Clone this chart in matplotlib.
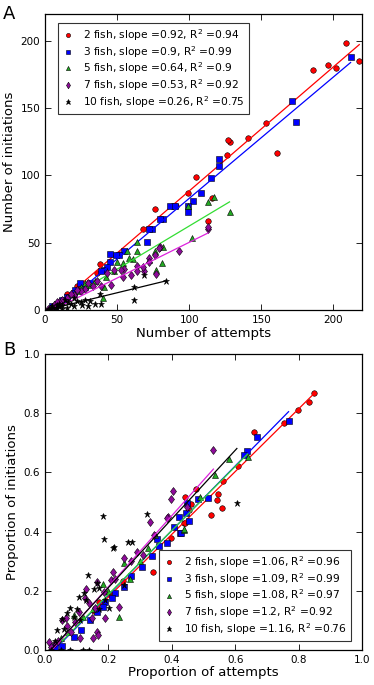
import numpy as np
import matplotlib
matplotlib.use('Agg')
import matplotlib.pyplot as plt

groups = ['2 fish', '3 fish', '5 fish', '7 fish', '10 fish']

# panel A: counts
a2_x = [218, 209, 202, 196, 186, 161, 153, 141, 128, 127, 126, 105, 99, 113, 116, 91, 88, 76, 68, 51, 38, 36, 22, 15]
a2_y = [185, 198, 180, 182, 178, 117, 139, 128, 125, 126, 115, 99, 87, 66, 83, 77, 77, 75, 60, 42, 34, 28, 18, 12]
a3_x = [212, 171, 174, 121, 121, 115, 108, 103, 99, 99, 87, 90, 82, 80, 74, 72, 71, 55, 51, 49, 45, 45, 43, 41, 39, 31, 28, 24, 21, 20, 15, 12, 8, 5]
a3_y = [188, 155, 140, 112, 107, 98, 87, 81, 73, 77, 77, 77, 68, 68, 60, 60, 51, 44, 41, 41, 42, 36, 32, 30, 29, 20, 17, 20, 15, 13, 10, 8, 5, 3]
a5_x = [128, 117, 113, 102, 99, 82, 81, 77, 76, 72, 64, 64, 61, 58, 57, 54, 50, 48, 42, 41, 40, 35, 30, 28, 25, 22, 18, 15, 12, 8, 5]
a5_y = [73, 84, 80, 54, 77, 47, 35, 30, 44, 37, 51, 44, 38, 39, 44, 35, 36, 29, 25, 17, 9, 22, 19, 20, 17, 14, 12, 10, 8, 5, 3]
a7_x = [113, 113, 93, 80, 79, 77, 76, 72, 72, 69, 68, 64, 64, 60, 55, 54, 53, 48, 46, 43, 39, 36, 33, 30, 28, 25, 22, 20, 18, 15, 12, 10, 8, 6, 4, 2]
a7_y = [60, 62, 44, 47, 46, 27, 41, 39, 36, 29, 32, 33, 29, 26, 31, 25, 30, 30, 19, 28, 18, 22, 18, 20, 16, 14, 15, 11, 12, 9, 8, 6, 6, 4, 2, 1]
a10_x = [84, 69, 62, 62, 39, 38, 35, 31, 30, 28, 26, 25, 22, 20, 20, 18, 16, 15, 14, 12, 12, 10, 10, 8, 8, 6, 5, 4, 3, 2]
a10_y = [22, 26, 17, 8, 5, 12, 5, 7, 3, 8, 4, 6, 7, 3, 9, 5, 6, 2, 8, 4, 1, 5, 3, 2, 4, 1, 3, 2, 1, 0]
a_slope = [0.92, 0.9, 0.64, 0.53, 0.26]
a_icpt = [-3.5, -7.0, -1.5, -2.6, 0.0]
a_r2 = ['0.94', '0.99', '0.9', '0.92', '0.75']

# panel B: proportions
b2_x = [0.847, 0.831, 0.797, 0.755, 0.660, 0.607, 0.560, 0.545, 0.541, 0.559, 0.524, 0.475, 0.442, 0.461,
        0.153, 0.169, 0.203, 0.245, 0.342, 0.397, 0.439, 0.455, 0.441]
b2_y = [0.867, 0.839, 0.810, 0.767, 0.735, 0.622, 0.572, 0.526, 0.507, 0.481, 0.456, 0.543, 0.518, 0.493,
        0.133, 0.161, 0.190, 0.233, 0.262, 0.377, 0.428, 0.474, 0.430]
b3_x = [0.768, 0.670, 0.638, 0.629, 0.513, 0.481, 0.449, 0.445, 0.455, 0.421, 0.407, 0.426, 0.386, 0.354, 0.361,
        0.429, 0.338, 0.306, 0.27, 0.248, 0.222, 0.211, 0.190, 0.182, 0.164, 0.143, 0.115, 0.090, 0.054, 0.03]
b3_y = [0.774, 0.721, 0.672, 0.658, 0.512, 0.509, 0.495, 0.464, 0.436, 0.450, 0.414, 0.396, 0.362, 0.374, 0.351,
        0.396, 0.318, 0.281, 0.25, 0.212, 0.192, 0.175, 0.163, 0.146, 0.129, 0.101, 0.068, 0.045, 0.014, 0.01]
b5_x = [0.639, 0.581, 0.536, 0.489, 0.439, 0.347, 0.326, 0.439, 0.268, 0.249, 0.232, 0.182, 0.15, 0.12, 0.09, 0.07, 0.05, 0.30, 0.20]
b5_y = [0.653, 0.644, 0.591, 0.518, 0.405, 0.389, 0.344, 0.408, 0.239, 0.294, 0.110, 0.222, 0.14, 0.11, 0.118, 0.06, 0.04, 0.30, 0.20]
b7_x = [0.531, 0.403, 0.397, 0.389, 0.331, 0.344, 0.386, 0.447, 0.249, 0.214, 0.209, 0.185, 0.159, 0.188, 0.148, 0.164,
        0.151, 0.111, 0.083, 0.066, 0.054, 0.033, 0.012, 0.096, 0.106, 0.234, 0.127, 0.163, 0.129, 0.168, 0.29, 0.27,
        0.31, 0.22, 0.14, 0.07, 0.04, 0.02]
b7_y = [0.676, 0.538, 0.510, 0.450, 0.433, 0.389, 0.445, 0.484, 0.310, 0.262, 0.236, 0.197, 0.141, 0.107, 0.107, 0.062,
        0.042, 0.040, 0.062, 0.107, 0.101, 0.023, 0.028, 0.096, 0.129, 0.146, 0.175, 0.231, 0.206, 0.051, 0.33, 0.30,
        0.32, 0.24, 0.16, 0.08, 0.03, 0.01]
b10_x = [0.605, 0.321, 0.182, 0.186, 0.261, 0.273, 0.214, 0.137, 0.164, 0.122, 0.108, 0.080, 0.069, 0.054, 0.038, 0.201,
         0.169, 0.154, 0.217, 0.05, 0.08, 0.12, 0.14, 0.02, 0.10, 0.13, 0.09, 0.06, 0.03, 0.17, 0.11, 0.25, 0.19]
b10_y = [0.498, 0.459, 0.454, 0.374, 0.364, 0.364, 0.344, 0.252, 0.227, 0.191, 0.180, 0.141, 0.124, 0.104, 0.068, 0.141,
         0.208, 0.205, 0.347, 0.0, 0.0, 0.0, 0.0, 0.0, 0.14, 0.17, 0.11, 0.07, 0.03, 0.14, 0.10, 0.22, 0.17]
b_slope = [1.06, 1.09, 1.08, 1.2, 1.16]
b_icpt = [-0.033, -0.032, -0.028, -0.026, -0.021]
b_r2 = ['0.96', '0.99', '0.97', '0.92', '0.76']

markers = ['o', 's', '^', 'd', '*']
mcolors = ['r', 'b', '#22aa22', '#8e0a9a', 'k']
lcolors = ['r', 'b', '#33dd33', '#dd22dd', 'k']
msizes = [4, 4, 4, 4.5, 5]

plt.rcParams['font.family'] = 'DejaVu Sans'

fig = plt.figure(figsize=(3.74, 6.85), dpi=100, facecolor='white')
axA = fig.add_axes([0.1203, 0.547, 0.848, 0.433])
axB = fig.add_axes([0.1203, 0.0511, 0.848, 0.4321])


def panel(ax, xs, ys, slopes, icpts, r2s):
    handles = []
    for i in range(len(groups)):
        x = np.array(xs[i], dtype=float)
        y = np.array(ys[i], dtype=float)
        h, = ax.plot(x, y, ls='none', marker=markers[i], color=mcolors[i], ms=msizes[i],
                     mec='k', mew=0.4)
        lx = np.array([x.min(), x.max()])
        ax.plot(lx, slopes[i] * lx + icpts[i], color=lcolors[i], lw=0.9)
        h.set_label('%s, slope =%s, R$^2$ =%s' % (groups[i], slopes[i], r2s[i]))
        handles.append(h)
    ax.tick_params(direction='in', top=True, right=True, labelsize=7.5, length=4, width=0.6)
    for s in ax.spines.values():
        s.set_linewidth(0.9)
    return handles


def add_legend(ax, handles, loc, anchor):
    leg = ax.legend(handles=handles, loc=loc, fontsize=7.7, numpoints=1, markerscale=0.75,
                    handlelength=1.2, handletextpad=0.8, borderpad=0.4, labelspacing=0.08,
                    borderaxespad=0.3, fancybox=False, bbox_to_anchor=anchor)
    leg.get_frame().set_edgecolor('k')
    leg.get_frame().set_linewidth(0.8)


hA = panel(axA, [a2_x, a3_x, a5_x, a7_x, a10_x], [a2_y, a3_y, a5_y, a7_y, a10_y], a_slope, a_icpt, a_r2)
axA.set_xlim(0, 220)
axA.set_ylim(0, 220)
axA.set_xticks([0, 50, 100, 150, 200])
axA.set_yticks([0, 50, 100, 150, 200])
axA.set_xlabel('Number of attempts', fontsize=9.5, labelpad=1)
axA.set_ylabel('Number of initiations', fontsize=9.5, labelpad=3)
add_legend(axA, hA, 'upper left', (0.03, 0.98))

hB = panel(axB, [b2_x, b3_x, b5_x, b7_x, b10_x], [b2_y, b3_y, b5_y, b7_y, b10_y], b_slope, b_icpt, b_r2)
axB.set_xlim(0, 1)
axB.set_ylim(0, 1)
axB.set_xticks(np.arange(0, 1.01, 0.2))
axB.set_yticks(np.arange(0, 1.01, 0.2))
axB.set_xlabel('Proportion of attempts', fontsize=9.5, labelpad=1)
axB.set_ylabel('Proportion of initiations', fontsize=9.5, labelpad=3)
add_legend(axB, hB, 'lower right', (0.975, 0.02))

fig.text(0.008, 0.992, 'A', fontsize=13, va='top', ha='left')
fig.text(0.008, 0.502, 'B', fontsize=13, va='top', ha='left')

fig.savefig('out.png', dpi=100, facecolor='white')
